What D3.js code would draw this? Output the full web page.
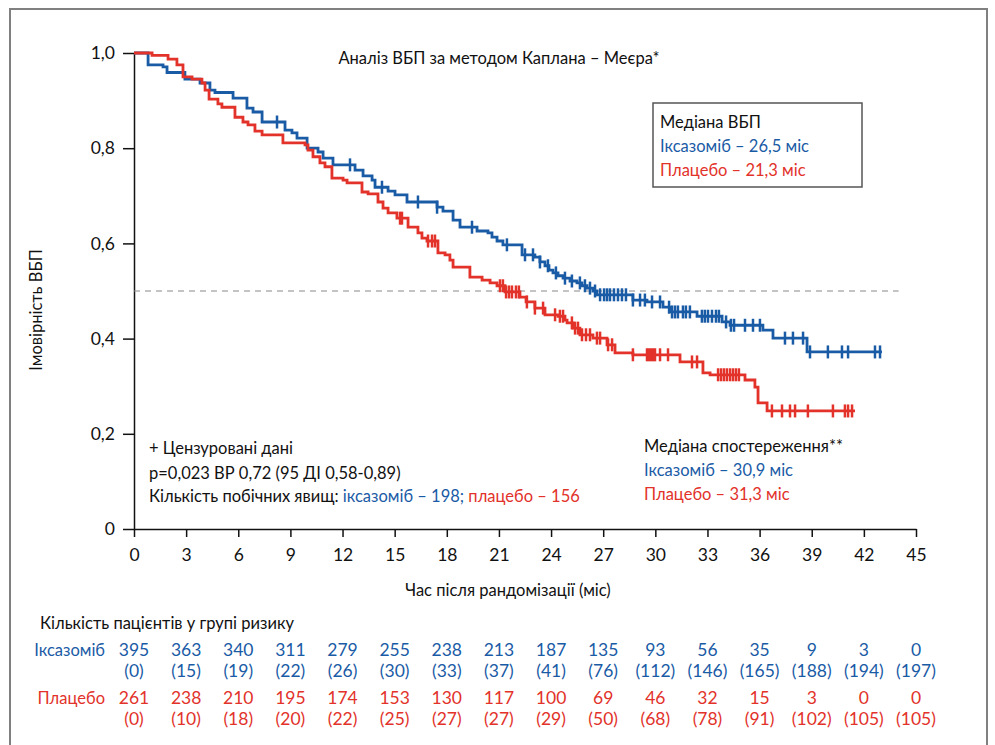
<!DOCTYPE html>
<html>
<head>
<meta charset="utf-8">
<script src="https://cdn.jsdelivr.net/npm/d3@7"></script>
<style>
  body { margin: 0; background: #fff; }
  text { font-family: Lato, "Noto Sans", sans-serif; }
</style>
</head>
<body>
<div id="chart"></div>
<script>
// step points [month, survival] after each event
var ixaSteps = [[0,1],[0.81,0.975],[1.67,0.971],[1.90,0.959],[2.93,0.945],[3.80,0.937],[4.37,0.922],[4.66,0.917],
  [5.70,0.905],[6.50,0.884],[6.85,0.876],[7.37,0.855],[8.69,0.838],[9.09,0.832],[9.38,0.821],[9.96,0.800],
  [10.59,0.792],[10.88,0.779],[11.45,0.765],[12.72,0.754],[13.18,0.742],[13.70,0.733],[13.87,0.718],[14.62,0.710],
  [15.02,0.702],[15.71,0.687],[17.44,0.676],[17.78,0.668],[18.36,0.649],[18.76,0.634],[19.74,0.626],[20.37,0.622],
  [20.60,0.613],[20.89,0.605],[21.23,0.597],[22.33,0.576],[23.07,0.571],[23.36,0.561],[23.65,0.553],[23.88,0.544],
  [24.11,0.538],[24.40,0.532],[24.69,0.527],[25.09,0.521],[25.49,0.517],[25.78,0.511],[26.07,0.506],[26.41,0.500],
  [26.64,0.492],[28.71,0.481],[29.52,0.477],[30.44,0.466],[30.84,0.456],[32.40,0.447],[33.84,0.435],[34.30,0.428],
  [36.19,0.418],[36.77,0.401],[38.73,0.372],[43.04,0.372]];
var ixaCensor = [8.23,12.43,14.27,16.34,17.44,19.45,21.46,22.50,22.96,23.36,23.82,24.28,24.80,25.20,25.66,25.95,
  26.24,26.53,26.82,27.05,27.22,27.39,27.62,27.85,28.08,28.31,28.71,29.12,29.40,29.81,30.27,30.79,30.96,31.13,
  31.30,31.59,31.76,31.99,32.68,32.85,33.03,33.26,33.49,33.66,34.07,34.35,34.53,35.16,35.62,36.02,37.46,37.92,
  38.50,38.90,39.93,40.74,41.09,42.64,42.93];

var plaSteps = [[0,1],[1.04,0.995],[1.96,0.987],[2.47,0.975],[2.82,0.950],[3.34,0.945],[3.91,0.937],[4.09,0.922],
  [4.32,0.903],[4.83,0.893],[5.06,0.886],[5.81,0.865],[6.27,0.855],[6.56,0.849],[6.96,0.836],[7.37,0.828],
  [8.57,0.811],[9.84,0.807],[10.01,0.796],[10.30,0.782],[10.70,0.769],[10.99,0.761],[11.39,0.737],[12.03,0.733],
  [12.26,0.727],[13.12,0.708],[13.47,0.704],[14.04,0.687],[14.33,0.674],[14.62,0.664],[15.13,0.653],[15.77,0.634],
  [16.34,0.622],[16.57,0.611],[16.86,0.605],[17.49,0.580],[17.90,0.576],[18.18,0.565],[18.36,0.550],[19.33,0.529],
  [20.03,0.523],[20.49,0.517],[20.89,0.511],[21.35,0.498],[22.21,0.487],[22.56,0.477],[23.07,0.464],[23.65,0.450],
  [24.40,0.447],[24.80,0.439],[24.92,0.433],[25.26,0.422],[25.66,0.408],[26.41,0.401],[27.22,0.387],[27.68,0.370],
  [28.71,0.366],[31.42,0.351],[32.74,0.328],[33.15,0.324],[35.16,0.313],[35.73,0.298],[35.91,0.265],[36.43,0.248],
  [41.49,0.248]];
var plaCensor = [15.31,15.42,16.92,17.15,17.32,21.06,21.23,21.41,21.58,21.75,21.98,22.15,22.61,23.07,23.54,24.23,
  24.51,24.69,25.20,25.38,25.55,25.78,26.01,26.24,26.64,26.82,27.28,27.51,28.71,29.52,29.63,29.75,29.87,29.98,
  30.27,30.73,32.11,32.40,33.61,33.78,33.95,34.12,34.30,34.47,34.64,34.81,36.71,37.29,37.75,38.04,38.78,40.22,
  40.91,41.09,41.32];

// risk table
var riskMonths = d3.range(0, 46, 3);
var ixaRisk = [395,363,340,311,279,255,238,213,187,135,93,56,35,9,3,0];
var ixaCens = [0,15,19,22,26,30,33,37,41,76,112,146,165,188,194,197];
var plaRisk = [261,238,210,195,174,153,130,117,100,69,46,32,15,3,0,0];
var plaCens = [0,10,18,20,22,25,27,27,29,50,68,78,91,102,105,105];

var yTicks = [0, 0.2, 0.4, 0.6, 0.8, 1.0];

var blue = "#1a5ba6", red = "#e2322a";

var svg = d3.select("#chart").append("svg")
    .attr("width", 995).attr("height", 745);
svg.append("rect").attr("width", 995).attr("height", 745).attr("fill", "#fff");

// outer frame (open at the bottom)
svg.append("path")
    .attr("d", "M10,745V9H987V745")
    .attr("fill", "none").attr("stroke", "#808080").attr("stroke-width", 2);

var x = d3.scaleLinear().domain([0, 45]).range([134, 916]);
var y = d3.scaleLinear().domain([0, 1]).range([529, 53]);

// axes
var yAxis = svg.append("g").attr("transform", "translate(134,0)")
    .call(d3.axisLeft(y).tickValues(yTicks).tickSize(11).tickSizeOuter(0).tickPadding(8)
      .tickFormat(function(d) { return d === 0 ? "0" : d3.format(".1f")(d).replace(".", ","); }));
var xAxis = svg.append("g").attr("transform", "translate(0,529)")
    .call(d3.axisBottom(x).tickValues(riskMonths).tickSize(8).tickSizeOuter(0).tickPadding(12));
[xAxis, yAxis].forEach(function(g) {
  g.select(".domain").attr("stroke", "#111").attr("stroke-width", 1.5);
  g.selectAll(".tick line").attr("stroke", "#111").attr("stroke-width", 1.5);
  g.selectAll(".tick text").attr("font-size", 17.5).attr("fill", "#111")
      .style("font-family", "Lato, 'Noto Sans', sans-serif");
});

// median reference line
svg.append("line")
    .attr("x1", x(0)).attr("x2", x(44)).attr("y1", y(0.5)).attr("y2", y(0.5))
    .attr("stroke", "#888").attr("stroke-width", 1).attr("stroke-dasharray", "6,5");

var line = d3.line().curve(d3.curveStepAfter)
    .x(function(d) { return x(d[0]); })
    .y(function(d) { return y(d[1]); });

function survAt(steps, t) {
  var s = steps[0][1];
  steps.forEach(function(p) { if (p[0] <= t) s = p[1]; });
  return s;
}

function drawCurve(steps, cens, color) {
  svg.append("path").datum(steps)
      .attr("d", line).attr("fill", "none")
      .attr("stroke", color).attr("stroke-width", 2.8);
  svg.append("g").selectAll("line").data(cens).enter().append("line")
      .attr("x1", function(d) { return x(d); }).attr("x2", function(d) { return x(d); })
      .attr("y1", function(d) { return y(survAt(steps, d)) - 6.5; })
      .attr("y2", function(d) { return y(survAt(steps, d)) + 6.5; })
      .attr("stroke", color).attr("stroke-width", 2.5);
}
drawCurve(ixaSteps, ixaCensor, blue);
drawCurve(plaSteps, plaCensor, red);

function txt(xp, yp, s, opts) {
  opts = opts || {};
  return svg.append("text").attr("x", xp).attr("y", yp).text(s)
      .attr("font-size", opts.size || 16.5)
      .attr("fill", opts.color || "#111")
      .attr("text-anchor", opts.anchor || "start");
}

// title and axis labels
txt(499, 64, "Аналіз ВБП за методом Каплана – Меєра*", {anchor: "middle"});
txt(508, 596, "Час після рандомізації (міс)", {anchor: "middle"});
svg.append("text").attr("transform", "translate(42,310) rotate(-90)")
    .attr("text-anchor", "middle").attr("font-size", 16.5).attr("fill", "#111")
    .text("Імовірність ВБП");

// median box
svg.append("rect").attr("x", 653).attr("y", 103).attr("width", 209).attr("height", 84)
    .attr("fill", "#fff").attr("stroke", "#555").attr("stroke-width", 1.5);
txt(660, 128, "Медіана ВБП");
txt(660, 152, "Іксазоміб – 26,5 міс", {color: blue});
txt(660, 176, "Плацебо – 21,3 міс", {color: red});

// notes, bottom left
txt(149, 454, "+ Цензуровані дані");
txt(149, 479, "p=0,023 ВР 0,72 (95 ДІ 0,58-0,89)");
var t3 = txt(149, 502, "Кількість побічних явищ: ");
t3.append("tspan").attr("fill", blue).text("іксазоміб – 198; ");
t3.append("tspan").attr("fill", red).text("плацебо – 156");

// notes, bottom right
txt(644, 452, "Медіана спостереження**");
txt(644, 476, "Іксазоміб – 30,9 міс", {color: blue});
txt(644, 500, "Плацебо – 31,3 міс", {color: red});

// number at risk
txt(40, 629, "Кількість пацієнтів у групі ризику");
txt(105, 656, "Іксазоміб", {anchor: "end", color: blue});
txt(105, 704, "Плацебо", {anchor: "end", color: red});

function riskRow(vals, yp, color, paren) {
  svg.append("g").selectAll("text").data(vals).enter().append("text")
      .attr("x", function(d, i) { return x(riskMonths[i]); })
      .attr("y", yp)
      .attr("text-anchor", "middle").attr("font-size", 17.5).attr("fill", color)
      .text(function(d) { return paren ? "(" + d + ")" : d; });
}
riskRow(ixaRisk, 656, blue, false);
riskRow(ixaCens, 677, blue, true);
riskRow(plaRisk, 704, red, false);
riskRow(plaCens, 725, red, true);
</script>
</body>
</html>
